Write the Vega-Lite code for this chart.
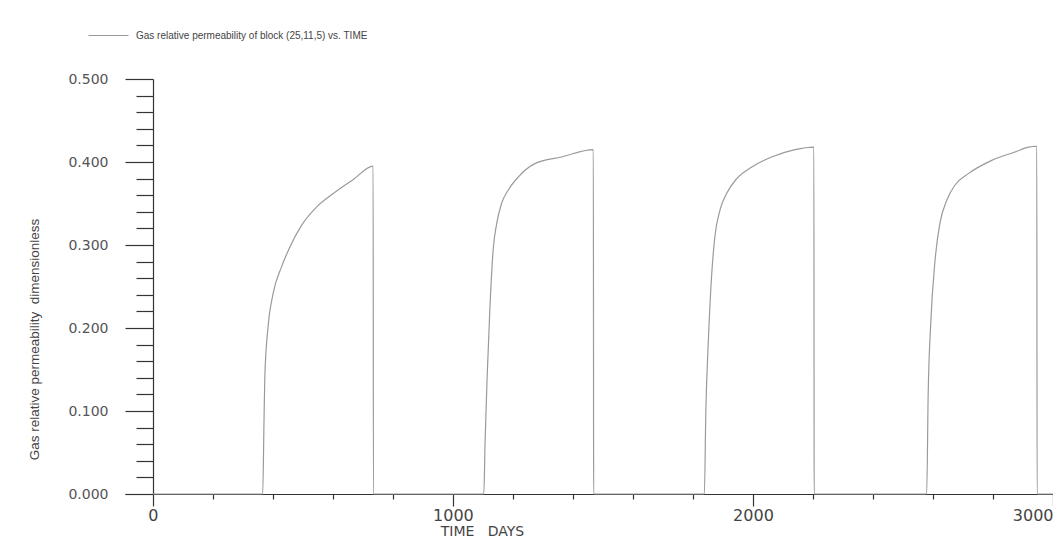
{
  "$schema": "https://vega.github.io/schema/vega-lite/v6.json",
  "autosize": {"type": "none"},
  "padding": {"left": 125, "top": 79, "right": 0, "bottom": 47},
  "width": 928,
  "height": 415,
  "background": "white",
  "config": {"view": {"stroke": null}},
  "data": {"values": [
    {"t": 0, "kr": 0, "s": "Gas relative permeability of block (25,11,5) vs. TIME"},
    {"t": 366, "kr": 0, "s": "Gas relative permeability of block (25,11,5) vs. TIME"},
    {"t": 370, "kr": 0.081, "s": "Gas relative permeability of block (25,11,5) vs. TIME"},
    {"t": 373, "kr": 0.141, "s": "Gas relative permeability of block (25,11,5) vs. TIME"},
    {"t": 384, "kr": 0.202, "s": "Gas relative permeability of block (25,11,5) vs. TIME"},
    {"t": 401, "kr": 0.242, "s": "Gas relative permeability of block (25,11,5) vs. TIME"},
    {"t": 429, "kr": 0.274, "s": "Gas relative permeability of block (25,11,5) vs. TIME"},
    {"t": 457, "kr": 0.298, "s": "Gas relative permeability of block (25,11,5) vs. TIME"},
    {"t": 496, "kr": 0.324, "s": "Gas relative permeability of block (25,11,5) vs. TIME"},
    {"t": 546, "kr": 0.346, "s": "Gas relative permeability of block (25,11,5) vs. TIME"},
    {"t": 601, "kr": 0.362, "s": "Gas relative permeability of block (25,11,5) vs. TIME"},
    {"t": 668, "kr": 0.379, "s": "Gas relative permeability of block (25,11,5) vs. TIME"},
    {"t": 734, "kr": 0.395, "s": "Gas relative permeability of block (25,11,5) vs. TIME"},
    {"t": 735, "kr": 0, "s": "Gas relative permeability of block (25,11,5) vs. TIME"},
    {"t": 1103, "kr": 0, "s": "Gas relative permeability of block (25,11,5) vs. TIME"},
    {"t": 1107, "kr": 0.061, "s": "Gas relative permeability of block (25,11,5) vs. TIME"},
    {"t": 1114, "kr": 0.141, "s": "Gas relative permeability of block (25,11,5) vs. TIME"},
    {"t": 1123, "kr": 0.222, "s": "Gas relative permeability of block (25,11,5) vs. TIME"},
    {"t": 1134, "kr": 0.294, "s": "Gas relative permeability of block (25,11,5) vs. TIME"},
    {"t": 1146, "kr": 0.326, "s": "Gas relative permeability of block (25,11,5) vs. TIME"},
    {"t": 1162, "kr": 0.35, "s": "Gas relative permeability of block (25,11,5) vs. TIME"},
    {"t": 1184, "kr": 0.366, "s": "Gas relative permeability of block (25,11,5) vs. TIME"},
    {"t": 1218, "kr": 0.382, "s": "Gas relative permeability of block (25,11,5) vs. TIME"},
    {"t": 1273, "kr": 0.398, "s": "Gas relative permeability of block (25,11,5) vs. TIME"},
    {"t": 1362, "kr": 0.406, "s": "Gas relative permeability of block (25,11,5) vs. TIME"},
    {"t": 1468, "kr": 0.415, "s": "Gas relative permeability of block (25,11,5) vs. TIME"},
    {"t": 1469, "kr": 0, "s": "Gas relative permeability of block (25,11,5) vs. TIME"},
    {"t": 1838, "kr": 0, "s": "Gas relative permeability of block (25,11,5) vs. TIME"},
    {"t": 1843, "kr": 0.101, "s": "Gas relative permeability of block (25,11,5) vs. TIME"},
    {"t": 1851, "kr": 0.182, "s": "Gas relative permeability of block (25,11,5) vs. TIME"},
    {"t": 1862, "kr": 0.262, "s": "Gas relative permeability of block (25,11,5) vs. TIME"},
    {"t": 1873, "kr": 0.31, "s": "Gas relative permeability of block (25,11,5) vs. TIME"},
    {"t": 1890, "kr": 0.342, "s": "Gas relative permeability of block (25,11,5) vs. TIME"},
    {"t": 1912, "kr": 0.362, "s": "Gas relative permeability of block (25,11,5) vs. TIME"},
    {"t": 1946, "kr": 0.38, "s": "Gas relative permeability of block (25,11,5) vs. TIME"},
    {"t": 1996, "kr": 0.394, "s": "Gas relative permeability of block (25,11,5) vs. TIME"},
    {"t": 2062, "kr": 0.406, "s": "Gas relative permeability of block (25,11,5) vs. TIME"},
    {"t": 2140, "kr": 0.415, "s": "Gas relative permeability of block (25,11,5) vs. TIME"},
    {"t": 2203, "kr": 0.418, "s": "Gas relative permeability of block (25,11,5) vs. TIME"},
    {"t": 2204, "kr": 0, "s": "Gas relative permeability of block (25,11,5) vs. TIME"},
    {"t": 2579, "kr": 0, "s": "Gas relative permeability of block (25,11,5) vs. TIME"},
    {"t": 2584, "kr": 0.121, "s": "Gas relative permeability of block (25,11,5) vs. TIME"},
    {"t": 2592, "kr": 0.202, "s": "Gas relative permeability of block (25,11,5) vs. TIME"},
    {"t": 2607, "kr": 0.282, "s": "Gas relative permeability of block (25,11,5) vs. TIME"},
    {"t": 2623, "kr": 0.326, "s": "Gas relative permeability of block (25,11,5) vs. TIME"},
    {"t": 2646, "kr": 0.354, "s": "Gas relative permeability of block (25,11,5) vs. TIME"},
    {"t": 2673, "kr": 0.372, "s": "Gas relative permeability of block (25,11,5) vs. TIME"},
    {"t": 2718, "kr": 0.386, "s": "Gas relative permeability of block (25,11,5) vs. TIME"},
    {"t": 2796, "kr": 0.402, "s": "Gas relative permeability of block (25,11,5) vs. TIME"},
    {"t": 2873, "kr": 0.412, "s": "Gas relative permeability of block (25,11,5) vs. TIME"},
    {"t": 2918, "kr": 0.418, "s": "Gas relative permeability of block (25,11,5) vs. TIME"},
    {"t": 2946, "kr": 0.419, "s": "Gas relative permeability of block (25,11,5) vs. TIME"},
    {"t": 2947, "kr": 0, "s": "Gas relative permeability of block (25,11,5) vs. TIME"},
    {"t": 3000, "kr": 0, "s": "Gas relative permeability of block (25,11,5) vs. TIME"}
  ]},
  "mark": {"type": "line", "strokeWidth": 1.2, "interpolate": "monotone"},
  "encoding": {
    "x": {
      "field": "t", "type": "quantitative",
      "scale": {"domain": [-93, 3000], "nice": false, "zero": false},
      "axis": {
        "title": "TIME\u00a0\u00a0\u00a0DAYS",
        "values": [0, 200, 400, 600, 800, 1000, 1200, 1400, 1600, 1800, 2000, 2200, 2400, 2600, 2800, 3000],
        "labelExpr": "datum.value % 1000 == 0 ? format(datum.value, 'd') : ''",
        "grid": false,
        "domainColor": "#333", "domainWidth": 1.2,
        "tickColor": "#333", "tickWidth": 1.2,
        "tickSize": {"condition": {"test": "datum.value % 1000 == 0", "value": 12}, "value": 5},
        "labelFont": "DejaVu Sans", "labelFontSize": 16, "labelColor": "#444",
        "labelPadding": 1, "labelFlush": true, "labelOverlap": false,
        "titleFont": "DejaVu Sans", "titleFontSize": 14, "titleFontWeight": "normal", "titleColor": "#444",
        "titleX": 357, "titleY": 37, "titleAnchor": null, "titleAlign": "center", "titleBaseline": "middle"
      }
    },
    "y": {
      "field": "kr", "type": "quantitative",
      "scale": {"domain": [0, 0.5], "nice": false},
      "axis": {
        "title": "Gas relative permeability\u00a0\u00a0dimensionless",
        "offset": -28,
        "values": [0, 0.02, 0.04, 0.06, 0.08, 0.1, 0.12, 0.14, 0.16, 0.18, 0.2, 0.22, 0.24, 0.26, 0.28, 0.3, 0.32, 0.34, 0.36, 0.38, 0.4, 0.42, 0.44, 0.46, 0.48, 0.5],
        "labelExpr": "abs(datum.value*10 - round(datum.value*10)) < 0.000001 ? format(datum.value, '.3f') : ''",
        "grid": false,
        "domainColor": "#333", "domainWidth": 1.2,
        "tickColor": "#333", "tickWidth": 1.2,
        "tickSize": {"condition": {"test": "abs(datum.value*10 - round(datum.value*10)) < 0.000001", "value": 28}, "value": 17},
        "labelFont": "DejaVu Sans", "labelFontSize": 14, "labelColor": "#555",
        "labelPadding": 17, "labelOverlap": false, "labelBaseline": "middle",
        "titleFont": "Liberation Sans Narrow, Liberation Sans", "titleFontSize": 13.5, "titleFontWeight": "normal", "titleColor": "#444",
        "titleX": -119, "titleY": 260, "titleAnchor": null, "titleAlign": "center", "titleBaseline": "middle", "titleAngle": -90
      }
    },
    "color": {
      "field": "s", "type": "nominal",
      "scale": {"range": ["#9a9a9a"]},
      "legend": {
        "title": null, "orient": "none", "legendX": -37, "legendY": -64,
        "symbolType": "stroke", "symbolSize": 1600, "symbolStrokeWidth": 1, "symbolStrokeColor": "#aaa",
        "labelFont": "Liberation Sans", "labelFontSize": 10, "labelColor": "#444", "labelOffset": 7, "padding": 0, "labelLimit": 400
      }
    }
  }
}
